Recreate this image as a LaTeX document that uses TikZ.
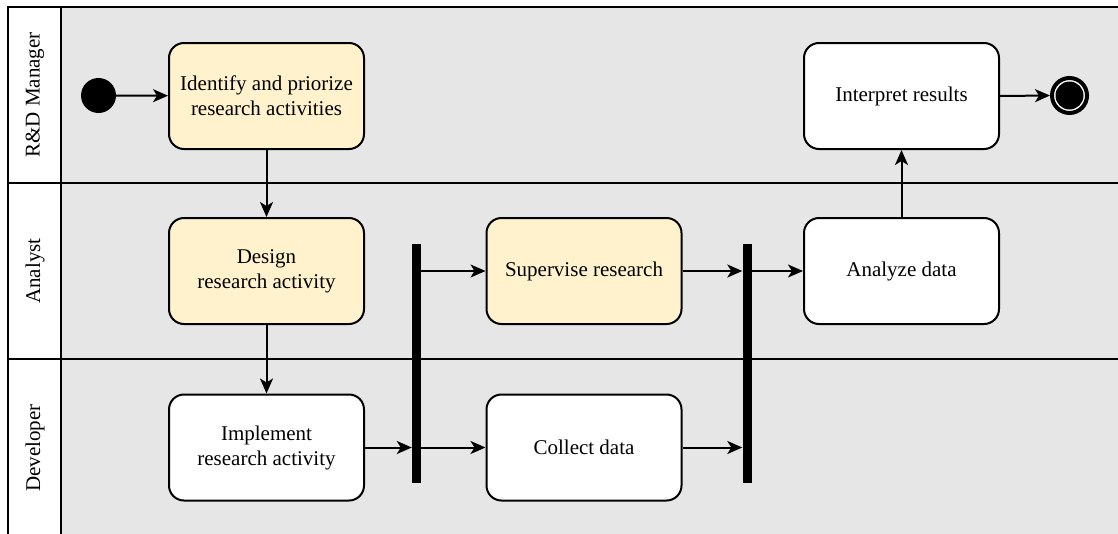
\documentclass[tikz,border=0pt]{standalone}
\usepackage{fontspec}
\setmainfont{Liberation Serif}
\usetikzlibrary{arrows.meta}
\definecolor{lanegray}{HTML}{E6E6E6}
\definecolor{cream}{HTML}{FFF2CC}
\begin{document}
\begin{tikzpicture}[x=1pt,y=-1pt,
  lbl/.style={font=\fontsize{21}{26}\selectfont},
  action/.style={draw=black, line width=2pt, rounded corners=15pt, fill=white,
    minimum width=195pt, minimum height=106pt, inner sep=0pt, align=center,
    font=\fontsize{21}{25}\selectfont},
  hot/.style={action, fill=cream},
  bar/.style={fill=black, draw=none, minimum width=9pt, minimum height=239pt, inner sep=0pt},
  flow/.style={line width=2pt, -{Stealth[length=15pt,width=13pt,inset=4pt]}},
  laneline/.style={line width=2pt}
]
\useasboundingbox (0,0) rectangle (1118,533);
\begin{scope}
\clip (0,0) rectangle (1118,533);
% swimlane pool
\fill[lanegray] (61,7) rectangle (1125,545);
\fill[white] (8,7) rectangle (61,545);
\draw[laneline] (1125,7) -- (8,7) -- (8,545);
\draw[laneline] (61,7) -- (61,545);
\draw[laneline] (8,183) -- (1125,183);
\draw[laneline] (8,359) -- (1125,359);
\end{scope}
% lane titles
\node[lbl, rotate=90] (lmgr) at (35,95) {R\&D Manager};
\node[lbl, rotate=90] (lana) at (35,271) {Analyst};
\node[lbl, rotate=90] (ldev) at (35,448) {Developer};

% start and end
\node[circle, fill=black, minimum size=35pt, inner sep=0pt] (start) at (98.5,95.5) {};
\node[circle, draw=black, line width=4pt, fill=white, minimum size=35pt, inner sep=0pt] (stop) at (1069.5,95.5) {};
\node[circle, fill=black, minimum size=28pt, inner sep=0pt] (stopdot) at (stop.center) {};

% actions
\node[hot] (identify) at (266.5,96) {Identify and priorize\\research activities};
\node[hot] (design) at (266.5,271) {Design\\research activity};
\node[action] (implement) at (266.5,447.5) {Implement\\research activity};
\node[hot] (supervise) at (584,271) {Supervise research};
\node[action] (collect) at (584,447.5) {Collect data};
\node[action] (analyze) at (901.5,271) {Analyze data};
\node[action] (interpret) at (901.5,96) {Interpret results};

% fork and join bars
\node[bar] (fork) at (416.5,363.5) {};
\node[bar] (join) at (747,363.5) {};

% flows
\draw[flow] (start) -- (identify);
\draw[flow] (identify) -- (design);
\draw[flow] (design) -- (implement);
\draw[flow] (implement.east) -- (fork.west |- implement.east);
\draw[flow] (fork.east |- supervise.west) -- (supervise.west);
\draw[flow] (fork.east |- collect.west) -- (collect.west);
\draw[flow] (supervise.east) -- (join.west |- supervise.east);
\draw[flow] (collect.east) -- (join.west |- collect.east);
\draw[flow] (join.east |- analyze.west) -- (analyze.west);
\draw[flow] (analyze) -- (interpret);
\draw[flow] (interpret.east) -- (stop.west);
\end{tikzpicture}
\end{document}
